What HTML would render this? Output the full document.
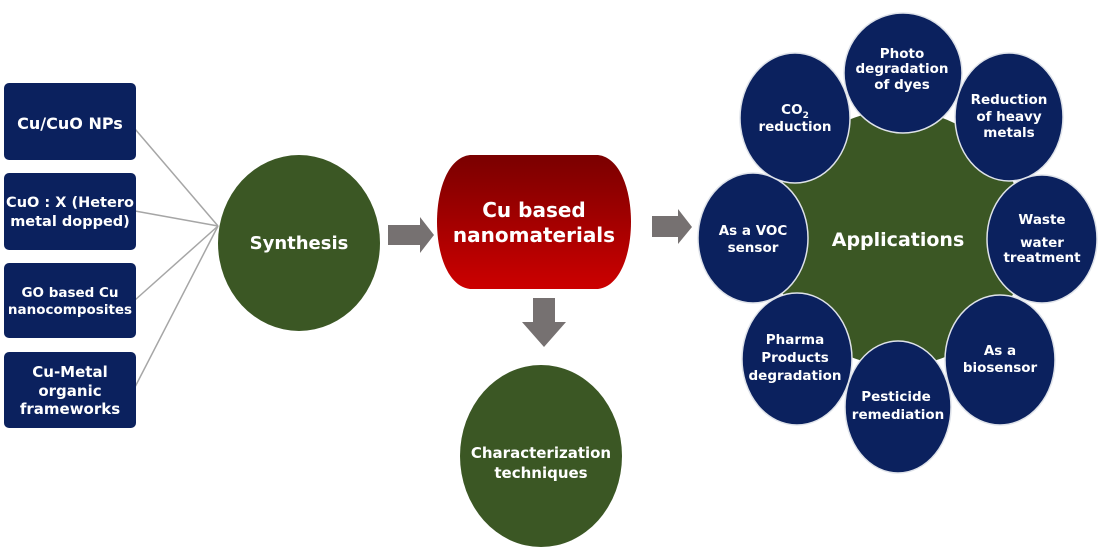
<!DOCTYPE html>
<html><head><meta charset="utf-8"><style>
html,body{margin:0;padding:0;background:#fff;}
svg{display:block;}
text{font-family:"DejaVu Sans","Liberation Sans",sans-serif;font-weight:bold;fill:#fff;text-anchor:middle;}
</style></head><body>
<svg width="1100" height="560" viewBox="0 0 1100 560" xmlns="http://www.w3.org/2000/svg">
<defs>
<linearGradient id="rg" x1="0" y1="0" x2="0" y2="1">
<stop offset="0" stop-color="#7a0000"/><stop offset="1" stop-color="#cc0000"/>
</linearGradient>
</defs>
<g stroke="#a6a6a6" stroke-width="1.5">
<line x1="135" y1="129" x2="218" y2="226"/>
<line x1="135" y1="211" x2="218" y2="226"/>
<line x1="135" y1="300" x2="218" y2="226"/>
<line x1="135" y1="387" x2="218" y2="226"/>
</g>
<g fill="#0b215e">
<rect x="4" y="83" width="132" height="77" rx="5"/>
<rect x="4" y="173" width="132" height="77" rx="5"/>
<rect x="4" y="263" width="132" height="75" rx="5"/>
<rect x="4" y="352" width="132" height="76" rx="5"/>
</g>
<text x="70" y="129" font-size="16">Cu/CuO NPs</text>
<text x="70" y="207" font-size="14.5">CuO : X (Hetero</text>
<text x="70" y="226" font-size="14.5">metal dopped)</text>
<text x="70" y="297" font-size="13.5">GO based Cu</text>
<text x="70" y="314" font-size="13.5">nanocomposites</text>
<text x="70" y="377" font-size="15">Cu-Metal</text>
<text x="70" y="396" font-size="15">organic</text>
<text x="70" y="414" font-size="15">frameworks</text>
<ellipse cx="299" cy="243" rx="81" ry="88" fill="#3b5724"/>
<text x="299" y="249" font-size="18">Synthesis</text>
<g fill="#767171">
<polygon points="388,225 420,225 420,217 434,235 420,253 420,245 388,245"/>
<polygon points="652,216 678,216 678,209 692,227 678,244 678,237 652,237"/>
<polygon points="533,298 555,298 555,322 566,322 544,347 522,322 533,322"/>
</g>
<path d="M470,155 L598,155 C642,160 642,284 598,289 L470,289 C426,284 426,160 470,155 Z" fill="url(#rg)"/>
<text x="534" y="217" font-size="20">Cu based</text>
<text x="534" y="242" font-size="20">nanomaterials</text>
<ellipse cx="541" cy="456" rx="81" ry="91" fill="#3b5724"/>
<text x="541" y="458" font-size="15">Characterization</text>
<text x="541" y="478" font-size="15">techniques</text>
<circle cx="898" cy="238" r="128" fill="#3b5724"/>
<g fill="#0b215e" stroke="#dfe3ea" stroke-width="1.5">
<ellipse cx="903" cy="73" rx="59" ry="60"/>
<ellipse cx="1009" cy="117" rx="54" ry="64"/>
<ellipse cx="1042" cy="239" rx="55" ry="64"/>
<ellipse cx="1000" cy="360" rx="55" ry="65"/>
<ellipse cx="898" cy="407" rx="53" ry="66"/>
<ellipse cx="797" cy="359" rx="55" ry="66"/>
<ellipse cx="753" cy="238" rx="55" ry="65"/>
<ellipse cx="795" cy="118" rx="55" ry="65"/>
</g>
<text x="898" y="246" font-size="19">Applications</text>
<g font-size="13.5">
<text x="902" y="58">Photo</text>
<text x="902" y="73">degradation</text>
<text x="902" y="89">of dyes</text>
<text x="1009" y="104">Reduction</text>
<text x="1009" y="121">of heavy</text>
<text x="1009" y="137">metals</text>
<text x="1042" y="224">Waste</text>
<text x="1042" y="247">water</text>
<text x="1042" y="262">treatment</text>
<text x="1000" y="355">As a</text>
<text x="1000" y="372">biosensor</text>
<text x="896" y="401">Pesticide</text>
<text x="898" y="419">remediation</text>
<text x="795" y="344">Pharma</text>
<text x="795" y="362">Products</text>
<text x="795" y="380">degradation</text>
<text x="753" y="235">As a VOC</text>
<text x="753" y="252">sensor</text>
<text x="795" y="114">CO<tspan font-size="9" dy="4">2</tspan></text>
<text x="795" y="131">reduction</text>
</g>
</svg>
</body></html>
